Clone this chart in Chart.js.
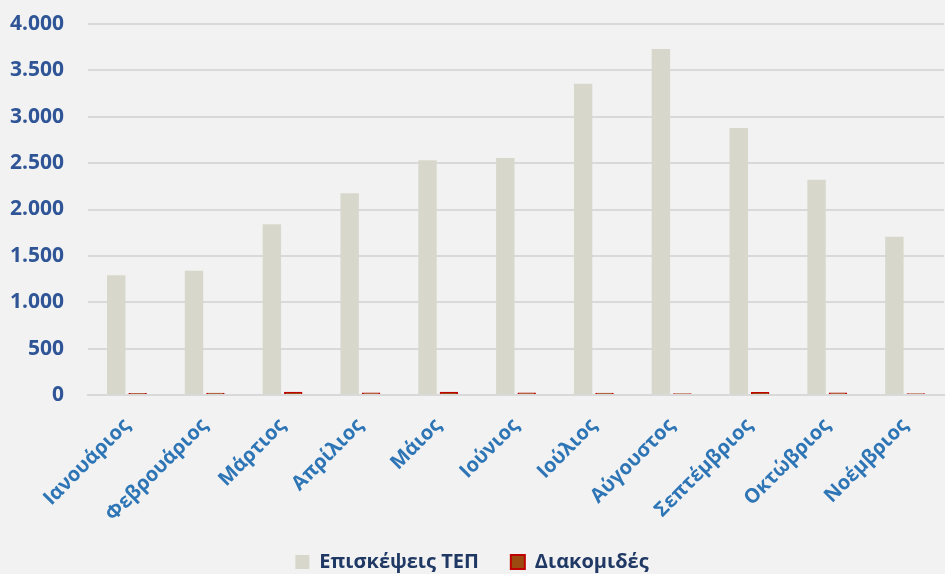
<!DOCTYPE html>
<html>
<head>
<meta charset="utf-8">
<script src="https://cdn.jsdelivr.net/npm/chart.js@4.4.0/dist/chart.umd.min.js"></script>
<style>
  html, body { margin: 0; padding: 0; background: #f2f2f2; }
  #wrap { width: 945px; height: 574px; }
</style>
</head>
<body>
<div id="wrap"><canvas id="chart" width="945" height="574"></canvas></div>
<script>
// months
var months = ['Ιανουάριος', 'Φεβρουάριος', 'Μάρτιος', 'Απρίλιος', 'Μάιος', 'Ιούνιος',
              'Ιούλιος', 'Αύγουστος', 'Σεπτέμβριος', 'Οκτώβριος', 'Νοέμβριος'];
// ER visits
var visits = [1290, 1340, 1840, 2175, 2530, 2555, 3355, 3730, 2880, 2320, 1705];
// transfers
var transfers = [22, 25, 35, 28, 35, 28, 25, 20, 32, 28, 20];
var yTicks = [0, 500, 1000, 1500, 2000, 2500, 3000, 3500, 4000];

var font = "'Open Sans', 'DejaVu Sans', sans-serif";

var ctx = document.getElementById('chart').getContext('2d');
var chart = new Chart(ctx, {
  type: 'bar',
  data: {
    labels: months,
    datasets: [
      {
        label: 'Επισκέψεις ΤΕΠ',
        data: visits,
        backgroundColor: '#d7d8cb',
        borderWidth: 0
      },
      {
        label: 'Διακομιδές',
        data: transfers,
        backgroundColor: '#9c4a0f',
        borderColor: '#c00000',
        borderWidth: 2
      }
    ]
  },
  options: {
    responsive: false,
    animation: false,
    categoryPercentage: 0.55,
    barPercentage: 0.86,
    layout: { padding: { top: 24, right: 1, left: 0, bottom: -8 } },
    plugins: {
      tooltip: { enabled: false },
      legend: {
        position: 'bottom',
        labels: {
          font: { family: font, size: 20, weight: 'bold' },
          color: '#1f3864',
          boxWidth: 14,
          boxHeight: 14,
          padding: 6,
          generateLabels: function(c) {
            var items = Chart.defaults.plugins.legend.labels.generateLabels(c);
            // wider gap between the two entries
            items[0].text = items[0].text + '     ';
            return items;
          }
        }
      }
    },
    scales: {
      x: {
        grid: { display: false },
        border: { color: '#d9d9d9', width: 2 },
        ticks: {
          font: { family: font, size: 20, weight: 'bold' },
          color: '#2e75b6',
          maxRotation: 45,
          minRotation: 45,
          padding: 11
        },
        afterFit: function(axis) { axis.height = 151; }
      },
      y: {
        min: 0,
        max: 4000,
        afterBuildTicks: function(axis) {
          axis.ticks = yTicks.map(function(v) { return { value: v }; });
        },
        grid: { color: '#d9d9d9', lineWidth: 2, drawTicks: false },
        border: { display: false },
        ticks: {
          font: { family: font, size: 21, weight: 'bold' },
          color: '#2f5597',
          padding: 24,
          callback: function(v) { return v.toLocaleString('de-DE'); }
        },
        afterFit: function(axis) {
          axis.width = 88;
          axis.paddingTop = 0;
          axis.paddingBottom = 0;
        }
      }
    }
  }
});
</script>
</body>
</html>
